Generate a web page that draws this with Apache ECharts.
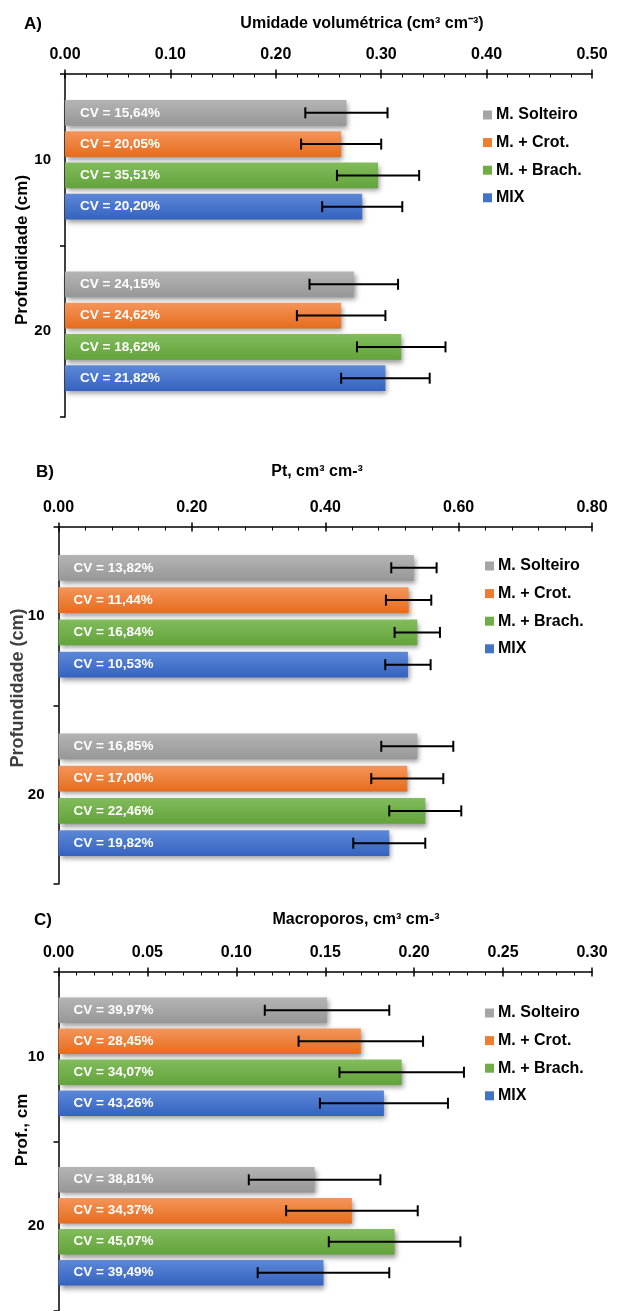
<!DOCTYPE html>
<html>
<head>
<meta charset="utf-8">
<script src="https://cdn.jsdelivr.net/npm/echarts@6/dist/echarts.min.js"></script>
<style>
  html, body { margin: 0; padding: 0; background: #fff; }
  #chart { width: 620px; height: 1311px; }
</style>
</head>
<body>
<div id="chart"></div>
<script>
// categories and series
var depths = ['10', '20'];
var treatments = ['M. Solteiro', 'M. + Crot.', 'M. + Brach.', 'MIX'];

// A) umidade volumetrica  (one row per treatment: [10 cm, 20 cm])
var umidMean = [[0.267, 0.274], [0.262, 0.262], [0.297, 0.319], [0.282, 0.304]];
var umidErr  = [[0.039, 0.042], [0.038, 0.042], [0.039, 0.042], [0.038, 0.042]];
var umidCv   = [['15,64', '24,15'], ['20,05', '24,62'], ['35,51', '18,62'], ['20,20', '21,82']];

// B) Pt
var ptMean = [[0.533, 0.538], [0.525, 0.523], [0.538, 0.550], [0.524, 0.496]];
var ptErr  = [[0.034, 0.054], [0.034, 0.054], [0.034, 0.054], [0.034, 0.054]];
var ptCv   = [['13,82', '16,85'], ['11,44', '17,00'], ['16,84', '22,46'], ['10,53', '19,82']];

// C) macroporos
var macroMean = [[0.151, 0.144], [0.170, 0.165], [0.193, 0.189], [0.183, 0.149]];
var macroErr  = [[0.035, 0.037], [0.035, 0.037], [0.035, 0.037], [0.036, 0.037]];
var macroCv   = [['39,97', '38,81'], ['28,45', '34,37'], ['34,07', '45,07'], ['43,26', '39,49']];

var fontFam = '"Liberation Sans", Arial, sans-serif';
var topColors = ['#b4b4b4', '#f4955a', '#82bc5c', '#5d88d8'];
var botColors = ['#979797', '#e66c1c', '#62a33b', '#3462bf'];
var flatColors = ['#a5a5a5', '#ed7d31', '#70ad47', '#4472c4'];

var panels = [
  { mean: umidMean, err: umidErr, cv: umidCv, max: 0.5, interval: 0.1,
    letter: 'A)', title: 'Umidade volumétrica (cm³ cm⁻³)', yName: 'Profundidade (cm)',
    grid: { left: 65, right: 28, top: 74, height: 343 },
    barWidth: 25.7, pitch: 31.3,
    letterXY: [24, 24], titleXY: [362, 24], legendTop: 107, legendLeft: 483,
    nameXY: [22, 250], nameSize: 17, nameColor: '#000' },
  { mean: ptMean, err: ptErr, cv: ptCv, max: 0.8, interval: 0.2,
    letter: 'B)', title: 'Pt, cm³ cm-³', yName: 'Profundidade (cm)',
    grid: { left: 58.5, right: 28, top: 527, height: 357 },
    barWidth: 25.7, pitch: 32.3,
    letterXY: [36, 472], titleXY: [317, 472], legendTop: 558, legendLeft: 485,
    nameXY: [18, 688], nameSize: 18, nameColor: '#404040' },
  { mean: macroMean, err: macroErr, cv: macroCv, max: 0.3, interval: 0.05,
    letter: 'C)', title: 'Macroporos, cm³ cm-³', yName: 'Prof., cm',
    grid: { left: 58.5, right: 28, top: 972, height: 345 },
    barWidth: 25.5, pitch: 31,
    letterXY: [34, 920], titleXY: [356, 920], legendTop: 1005, legendLeft: 485,
    nameXY: [22, 1130], nameSize: 17, nameColor: '#000' }
];

var option = {
  animation: false,
  backgroundColor: '#fff',
  textStyle: { fontFamily: fontFam },
  graphic: [], legend: [], grid: [], xAxis: [], yAxis: [], series: []
};

panels.forEach(function (p, k) {
  option.graphic.push({
    type: 'text', x: p.letterXY[0], y: p.letterXY[1],
    style: { text: p.letter, font: 'bold 17px ' + fontFam, fill: '#000', align: 'left', verticalAlign: 'middle' }
  });
  option.graphic.push({
    type: 'text', x: p.titleXY[0], y: p.titleXY[1],
    style: { text: p.title, font: 'bold 16px ' + fontFam, fill: '#000', align: 'center', verticalAlign: 'middle' }
  });
  option.graphic.push({
    type: 'text', x: p.nameXY[0], y: p.nameXY[1], rotation: Math.PI / 2,
    style: { text: p.yName, font: 'bold ' + p.nameSize + 'px ' + fontFam, fill: p.nameColor, align: 'center', verticalAlign: 'middle' }
  });
  option.legend.push({
    orient: 'vertical', left: p.legendLeft, top: p.legendTop, padding: 0,
    itemWidth: 9, itemHeight: 9, itemGap: 11.6,
    icon: 'rect',
    textStyle: { fontFamily: fontFam, fontSize: 16, fontWeight: 'bold', color: '#000', padding: [0, 0, 0, -1] },
    data: treatments.map(function (n, i) {
      return { name: n, itemStyle: { color: flatColors[i] } };
    })
  });
  option.grid.push(p.grid);

  var axisBase = {
    type: 'value', gridIndex: k, position: 'top', min: 0, max: p.max, interval: p.interval,
    splitLine: { show: false }
  };
  option.xAxis.push(Object.assign({}, axisBase, {
    axisLine: { show: true, lineStyle: { color: '#000', width: 1.5 } },
    axisTick: { show: true, length: 4.5, lineStyle: { color: '#000', width: 1.5 } },
    axisLabel: {
      margin: 11, fontFamily: fontFam, fontSize: 16, fontWeight: 'bold', color: '#000',
      formatter: function (v) { return v.toFixed(2); }
    }
  }));
  option.xAxis.push(Object.assign({}, axisBase, {
    axisLine: { show: false },
    axisLabel: { show: false },
    axisTick: { show: true, inside: true, length: 4.5, lineStyle: { color: '#000', width: 1.5 } },
    minorTick: { show: true, splitNumber: 5, length: 3.5, lineStyle: { color: '#000', width: 1 } }
  }));

  option.yAxis.push({
    type: 'category', gridIndex: k, data: depths, inverse: true,
    axisLine: { show: true, lineStyle: { color: '#000', width: 1.5 } },
    axisTick: { show: true, length: 5, lineStyle: { color: '#000', width: 1.5 } },
    axisLabel: { margin: 14, fontFamily: fontFam, fontSize: 15, fontWeight: 'bold', color: '#000' }
  });
  option.yAxis.push({
    type: 'category', gridIndex: k, data: depths, inverse: true,
    axisLine: { show: false }, axisLabel: { show: false },
    axisTick: { show: true, inside: true, length: 5, lineStyle: { color: '#000', width: 1.5 } }
  });

  var gapPct = ((p.pitch - p.barWidth) / p.barWidth * 100).toFixed(1) + '%';
  treatments.forEach(function (name, i) {
    option.series.push({
      name: name, type: 'bar', xAxisIndex: k * 2, yAxisIndex: k * 2,
      barWidth: p.barWidth, barGap: gapPct,
      itemStyle: {
        color: new echarts.graphic.LinearGradient(0, 0, 0, 1, [
          { offset: 0, color: topColors[i] }, { offset: 1, color: botColors[i] }
        ]),
        shadowColor: 'rgba(0,0,0,0.4)', shadowBlur: 5, shadowOffsetX: 2, shadowOffsetY: 3
      },
      label: {
        show: true, position: 'insideLeft', distance: 15,
        fontFamily: fontFam, fontSize: 13.5, fontWeight: 'bold', color: '#fff',
        formatter: function (d) { return 'CV = ' + p.cv[i][d.dataIndex] + '%'; }
      },
      data: p.mean[i]
    });
  });

  var errRows = [];
  treatments.forEach(function (name, i) {
    depths.forEach(function (d, j) {
      errRows.push([p.mean[i][j], j, i, p.err[i][j]]);
    });
  });
  option.series.push({
    type: 'custom', xAxisIndex: k * 2, yAxisIndex: k * 2, z: 10,
    encode: { x: 0, y: 1 },
    data: errRows,
    renderItem: function (params, api) {
      var c = api.coord([api.value(0), api.value(1)]);
      var y = c[1] + (api.value(2) - 1.5) * p.pitch;
      var lo = api.coord([api.value(0) - api.value(3), api.value(1)])[0];
      var hi = api.coord([api.value(0) + api.value(3), api.value(1)])[0];
      var st = { stroke: '#000', lineWidth: 2 };
      return {
        type: 'group',
        children: [
          { type: 'line', shape: { x1: lo, y1: y, x2: hi, y2: y }, style: st },
          { type: 'line', shape: { x1: lo, y1: y - 5.5, x2: lo, y2: y + 5.5 }, style: st },
          { type: 'line', shape: { x1: hi, y1: y - 5.5, x2: hi, y2: y + 5.5 }, style: st }
        ]
      };
    }
  });
});

var chart = echarts.init(document.getElementById('chart'));
chart.setOption(option);
</script>
</body>
</html>
